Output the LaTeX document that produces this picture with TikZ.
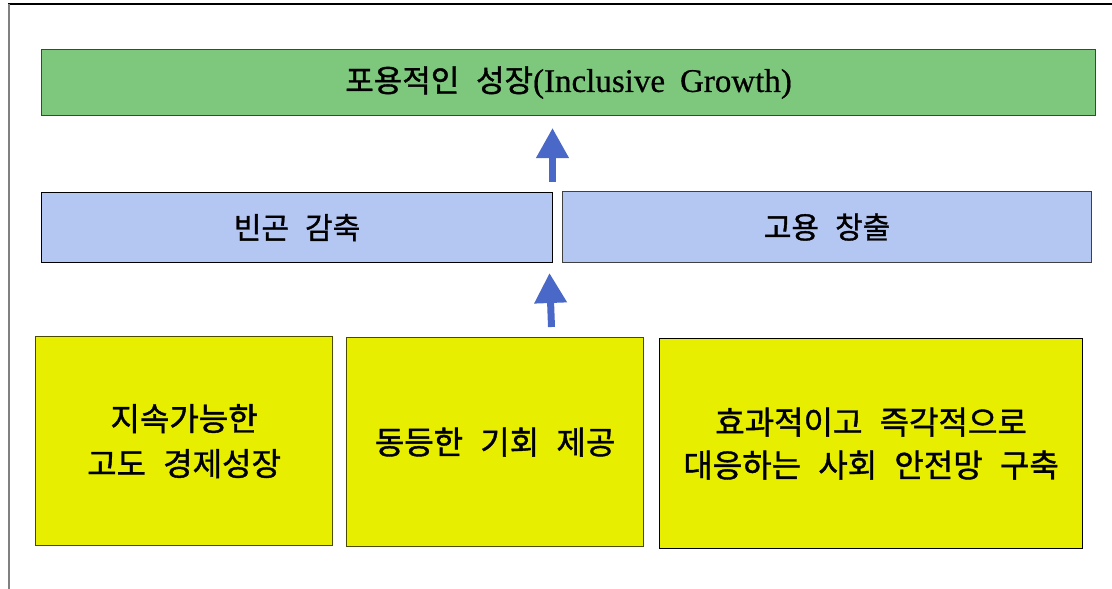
\documentclass[tikz,border=0pt]{standalone}
\usepackage{fontspec}
\setmainfont{Liberation Serif}[FakeBold=0.6]
\newfontfamily\kr[WordSpace=2.4, FakeBold=1.2]{Noto Sans CJK KR}
\usetikzlibrary{arrows.meta}
\definecolor{gfill}{HTML}{7EC87E}
\definecolor{gline}{HTML}{2F4F2F}
\definecolor{bfill}{HTML}{B4C6F2}
\definecolor{yfill}{HTML}{E8EE00}
\definecolor{yline}{HTML}{4A4A00}
\definecolor{arr}{HTML}{4A68C8}
\tikzset{
  box/.style={draw, line width=1.2pt, inner sep=0pt, anchor=north west, align=center},
  greenbox/.style={box, fill=gfill, draw=gline},
  bluebox/.style={box, fill=bfill},
  yellowbox/.style={box, fill=yfill},
  uparrow/.style={arr, line width=7pt, -{Triangle[width=31pt,length=30pt]}},
}
\begin{document}
\begin{tikzpicture}[x=1pt,y=-1pt]
\useasboundingbox (0,0) rectangle (1112,589);
% frame
\draw[black, line width=1.5pt] (8,4) -- (1112,4);
\draw[gray, line width=2pt] (9,4) -- (9,589);
% top
\node[greenbox, minimum width=1054pt, minimum height=66pt] (top) at (41,49)
  {{\kr\fontsize{31}{36}\selectfont 포용적인 성장}{\fontsize{33}{36}\selectfont (Inclusive\hspace{15pt}Growth)}};
% middle
\node[bluebox, draw=black, minimum width=511pt, minimum height=70pt, font=\kr\fontsize{30}{34}\selectfont] (pov) at (41,192) {빈곤 감축};
\node[bluebox, draw=black!75, minimum width=529pt, minimum height=71pt, font=\kr\fontsize{30}{34}\selectfont] (emp) at (562,191) {고용 창출};
% bottom
\node[yellowbox, draw=yline, minimum width=297pt, minimum height=209pt, font=\kr\fontsize{32}{45}\selectfont] (b1) at (35,336) {지속가능한\\고도 경제성장};
\node[yellowbox, draw=yline, minimum width=297pt, minimum height=209pt, font=\kr\fontsize{32}{45}\selectfont] (b2) at (346,337) {동등한 기회 제공};
\node[yellowbox, draw=black, minimum width=423pt, minimum height=210pt, font=\kr\fontsize{32}{43}\selectfont] (b3) at (659,338) {효과적이고 즉각적으로\\대응하는 사회 안전망 구축};
% arrows
\coordinate (a1s) at (552.5,182);
\coordinate (a1e) at (552.5,128);
\coordinate (a2s) at (551.5,327);
\coordinate (a2e) at (549.5,273);
\draw[uparrow] (a1s) -- (a1e);
\draw[uparrow] (a2s) -- (a2e);
\end{tikzpicture}
\end{document}
